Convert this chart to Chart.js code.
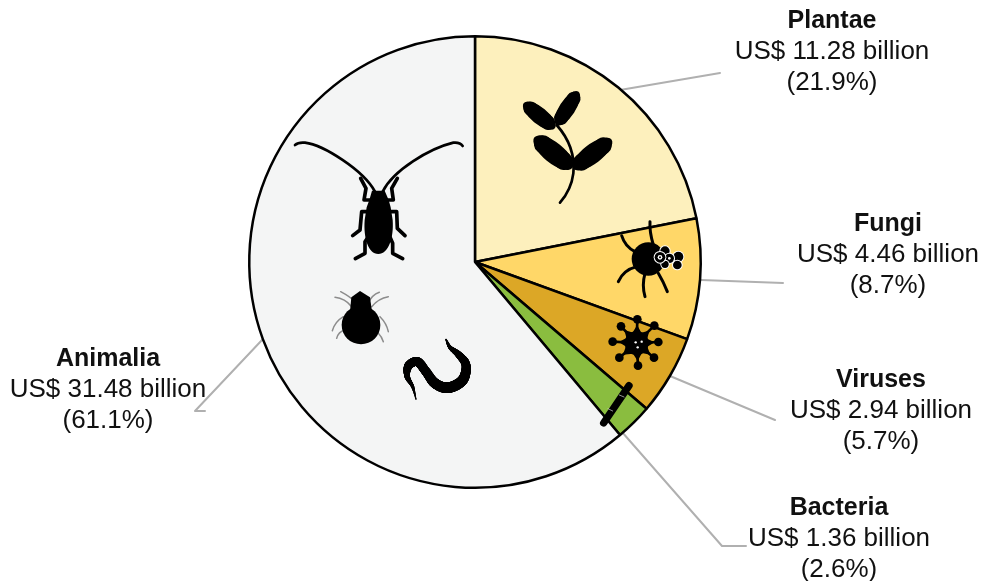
<!DOCTYPE html>
<html lang="en">
<head>
  <meta charset="UTF-8" />
  <title>Plant and animal pathogens by kingdom</title>
  <script src="https://cdn.jsdelivr.net/npm/chart.js"></script>
  <style>
    * { box-sizing: border-box; }
    html, body { margin: 0; padding: 0; background: #fff; overflow: hidden; }
    #wrap { position: relative; width: 987px; height: 581px; }
    canvas { position: absolute; left: 0; top: 0; }
    .lbl {
      position: absolute;
      transform: translateX(-50%);
      text-align: center;
      white-space: nowrap;
      font-family: 'Liberation Sans', Arial, sans-serif;
      font-size: 26px;
      line-height: 31px;
      color: #111;
    }
    .lbl b { display: block; font-size: 25px; }
  </style>
</head>
<body>
  <div id="wrap">
    <canvas id="pie" width="987" height="581"></canvas>
  </div>

  <script>
    const categories = ['Plantae', 'Fungi', 'Viruses', 'Bacteria', 'Animalia'];
    const values = [11.28, 4.46, 2.94, 1.36, 31.48];
    const amounts = ['US$ 11.28 billion', 'US$ 4.46 billion', 'US$ 2.94 billion', 'US$ 1.36 billion', 'US$ 31.48 billion'];
    const shares = ['(21.9%)', '(8.7%)', '(5.7%)', '(2.6%)', '(61.1%)'];
    const colors = ['#fdf0bd', '#ffd768', '#dca726', '#8abd3f', '#f4f5f5'];

    // label block centre x / top y
    const labelPos = [[832, 4], [888, 207], [881, 363], [839, 491], [108, 342]];

    // leader lines
    const leaders = [
      [[620, 90], [720, 73]],
      [[701, 280], [783, 283]],
      [[670, 376], [775, 420]],
      [[622, 432], [722, 546], [746, 546]],
      [[262, 340], [195, 411], [205, 411]]
    ];

    categories.forEach((name, i) => {
      const d = document.createElement('div');
      d.className = 'lbl';
      d.style.left = labelPos[i][0] + 'px';
      d.style.top = labelPos[i][1] + 'px';
      d.innerHTML = '<b>' + name + '</b>' + amounts[i] + '<br>' + shares[i];
      document.getElementById('wrap').appendChild(d);
    });

    function line(ctx, pts, w, color) {
      ctx.beginPath();
      ctx.lineWidth = w;
      ctx.strokeStyle = color || '#000';
      ctx.lineCap = 'round';
      ctx.lineJoin = 'round';
      pts.forEach((p, i) => i ? ctx.lineTo(p[0], p[1]) : ctx.moveTo(p[0], p[1]));
      ctx.stroke();
    }

    function svg(ctx, d, w, color) {
      ctx.lineWidth = w;
      ctx.strokeStyle = color || '#000';
      ctx.lineCap = 'round';
      ctx.lineJoin = 'round';
      ctx.stroke(new Path2D(d));
    }

    function dot(ctx, x, y, r, fill) {
      ctx.beginPath();
      ctx.arc(x, y, r, 0, Math.PI * 2);
      ctx.fillStyle = fill || '#000';
      ctx.fill();
    }

    // ellipse plus a capsule inside it, the leaves have blunt ends
    function leaf(ctx, x, y, a, b, deg) {
      const r = deg * Math.PI / 180;
      ctx.beginPath();
      ctx.ellipse(x, y, a, b, r, 0, Math.PI * 2);
      ctx.fillStyle = '#000';
      ctx.fill();
      const dx = Math.cos(r) * (a - b) * 0.95, dy = Math.sin(r) * (a - b) * 0.95;
      line(ctx, [[x - dx, y - dy], [x + dx, y + dy]], b * 1.75);
    }

    // catmull-rom through x,y,width points, stamped with circles
    function taper(ctx, pts) {
      for (let i = 0; i < pts.length - 1; i++) {
        const p0 = pts[Math.max(i - 1, 0)], p1 = pts[i], p2 = pts[i + 1], p3 = pts[Math.min(i + 2, pts.length - 1)];
        for (let t = 0; t < 1; t += 0.03) {
          const c = k => 0.5 * (2 * p1[k] + (p2[k] - p0[k]) * t + (2 * p0[k] - 5 * p1[k] + 4 * p2[k] - p3[k]) * t * t + (3 * p1[k] - p0[k] - 3 * p2[k] + p3[k]) * t * t * t);
          dot(ctx, c(0), c(1), Math.max(c(2), 1) / 2);
        }
      }
    }

    function zoomed(ctx, x, y, fn) {
      ctx.save();
      ctx.translate(x, y);
      ctx.scale(1 / 3, 1 / 3);
      fn();
      ctx.restore();
    }

    function drawBeetle(ctx) {
      svg(ctx, 'M285 215 C250 150 130 75 75 68 Q55 66 45 75', 8);
      svg(ctx, 'M308 215 C340 150 450 85 520 68 Q540 66 548 78', 8);
      ctx.fillStyle = '#000';
      ctx.fill(new Path2D('M276 212 L314 212 L326 240 L332 262 L338 300 C342 355 325 402 295 402 C265 402 250 355 254 300 L260 262 L268 240 Z'));
      line(ctx, [[275, 240], [252, 240], [258, 205], [242, 175]], 11);
      line(ctx, [[318, 240], [340, 240], [335, 205], [352, 175]], 11);
      line(ctx, [[270, 275], [245, 275], [240, 330], [218, 347]], 11);
      line(ctx, [[325, 275], [350, 275], [352, 325], [375, 347]], 11);
      line(ctx, [[272, 340], [255, 365], [255, 400], [226, 416]], 11);
      line(ctx, [[325, 340], [338, 370], [338, 400], [368, 416]], 11);
    }

    function drawMite(ctx) {
      ['M215 560 Q195 535 165 532', 'M225 545 Q210 530 182 515', 'M265 550 Q275 525 298 517', 'M275 560 Q295 535 325 530',
       'M190 590 Q165 605 157 632', 'M195 630 Q175 635 170 655', 'M300 590 Q320 610 325 635', 'M295 640 Q305 650 310 665'
      ].forEach(d => svg(ctx, d, 4.5, '#8c8c8c'));
      dot(ctx, 243, 615, 58);
      ctx.fillStyle = '#000';
      ctx.fill(new Path2D('M240 513 L270 532 L276 575 L210 575 L214 532 Z'));
    }

    function drawWorm(ctx) {
      taper(ctx, [[498, 658, 4], [510, 682, 11], [535, 703, 19], [558, 735, 26], [548, 780, 31], [505, 803, 32], [465, 790, 30],
        [438, 755, 27], [412, 725, 27], [385, 738, 24], [382, 770, 16], [398, 800, 9], [408, 838, 3]]);
    }

    function drawPlant(ctx) {
      leaf(ctx, 88, 107, 60, 25, 39);
      leaf(ctx, 172, 85, 60, 24, -57);
      leaf(ctx, 130, 218, 73, 31, 39);
      leaf(ctx, 247, 222, 72, 29, -37);
      svg(ctx, 'M140 135 C180 180 195 230 190 280 C185 320 170 345 150 368', 8);
    }

    function drawSpider(ctx) {
      ['M180 20 Q178 50 190 90', 'M95 62 Q105 95 135 110', 'M85 200 Q100 165 140 155', 'M165 245 Q155 210 165 175', 'M232 230 Q220 200 205 175'
      ].forEach(d => svg(ctx, d, 9));
      dot(ctx, 175, 132, 50);
      [[225, 108, 14], [265, 125, 15], [262, 150, 13], [238, 130, 14], [225, 148, 11], [210, 127, 16]].forEach(s => {
        dot(ctx, s[0], s[1], s[2] + 3, '#fff');
        dot(ctx, s[0], s[1], s[2]);
      });
      [[210, 127, 7], [238, 130, 4]].forEach(s => dot(ctx, s[0], s[1], s[2], '#fff'));
      dot(ctx, 210, 127, 3);
    }

    function drawVirus(ctx) {
      const cx = 140, cy = 384;
      const tips = [[142, 313], [193, 332], [205, 381], [192, 428], [144, 452], [88, 428], [68, 380], [93, 334]];
      tips.forEach(t => {
        line(ctx, [[cx, cy], t], 8);
        dot(ctx, t[0], t[1], 13);
      });
      // body: star with wide based spikes
      const star = new Path2D();
      tips.forEach((t, i) => {
        const a = Math.atan2(t[1] - cy, t[0] - cx), v = a + Math.PI / 8;
        const px = cx + Math.cos(a) * 54, py = cy + Math.sin(a) * 54;
        const qx = cx + Math.cos(v) * 34, qy = cy + Math.sin(v) * 34;
        if (i) star.lineTo(px, py); else star.moveTo(px, py);
        star.lineTo(qx, qy);
      });
      star.closePath();
      ctx.fillStyle = '#000';
      ctx.fill(star);
      dot(ctx, cx, cy, 36);
      [[137, 382], [155, 380], [143, 397]].forEach(s => dot(ctx, s[0], s[1], 3.5, '#fff'));
    }

    function drawBacillus(ctx) {
      line(ctx, [[117, 512], [41, 624]], 22);
      line(ctx, [[88, 540], [102, 546]], 2, '#ddd');
      line(ctx, [[54, 581], [68, 588]], 2, '#ddd');
    }

    const overlay = {
      id: 'overlay',
      // leaders go under the pie edge
      beforeDatasetsDraw(chart) {
        leaders.forEach(l => line(chart.ctx, l, 2, '#b0b0b0'));
      },
      afterDatasetsDraw(chart) {
        const ctx = chart.ctx;
        zoomed(ctx, 280, 120, () => { drawBeetle(ctx); drawMite(ctx); drawWorm(ctx); });
        zoomed(ctx, 510, 80, () => drawPlant(ctx));
        zoomed(ctx, 590, 215, () => { drawSpider(ctx); drawVirus(ctx); drawBacillus(ctx); });
      }
    };

    new Chart(document.getElementById('pie'), {
      type: 'pie',
      data: {
        labels: categories,
        datasets: [{
          data: values,
          backgroundColor: colors,
          borderColor: '#000',
          borderWidth: 2.5,
          borderAlign: 'center'
        }]
      },
      options: {
        responsive: false,
        animation: false,
        layout: { padding: { left: 248, right: 285, top: 35, bottom: 92 } },
        plugins: {
          legend: { display: false },
          tooltip: { enabled: false }
        }
      },
      plugins: [overlay]
    });
  </script>
</body>
</html>
